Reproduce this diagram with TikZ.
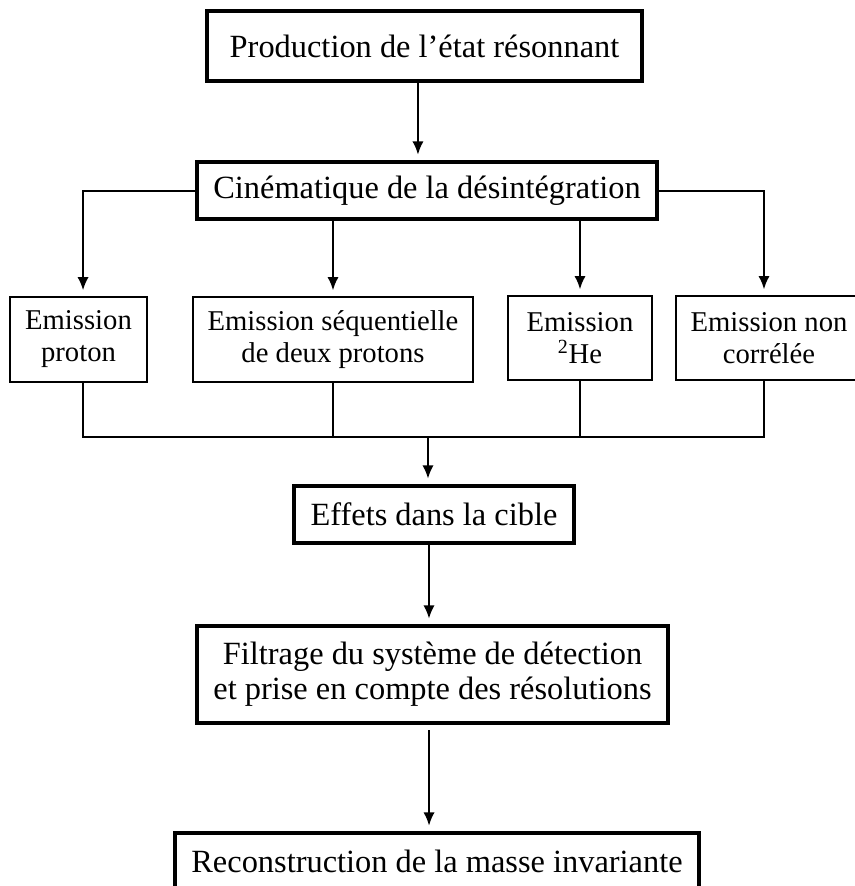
\documentclass[tikz,border=0pt]{standalone}
\usepackage{fontspec}
\setmainfont{Liberation Serif}
\usetikzlibrary{arrows.meta}

\begin{document}
\begin{tikzpicture}[x=0.75pt,y=-0.75pt,line cap=butt,
    gros/.style={draw,line width=3pt,align=center,inner sep=0pt,
      font=\fontsize{24.3}{26.3}\selectfont},
    petit/.style={draw,line width=2pt,align=center,inner sep=0pt,
      font=\fontsize{21.5}{24}\selectfont},
    lien/.style={line width=1.5pt},
    fleche/.style={lien,-{Latex[length=10pt,width=8.5pt]},shorten >=4pt}]
  \useasboundingbox (0,0) rectangle (855,886);
  % boites principales
  \node[gros,minimum width=326.25pt,minimum height=52.5pt] (prod) at (424.5,46) {Production de l'état résonnant};
  \node[gros,minimum width=345pt,minimum height=42.75pt] (cine) at (427,190.5) {Cinématique de la désintégration};
  % modes d'emission
  \node[petit,minimum width=102.75pt,minimum height=63.75pt] (ep) at (78.5,339.5) {Emission\\proton};
  \node[petit,minimum width=210pt,minimum height=63.75pt] (es) at (333,339.5) {Emission séquentielle\\de deux protons};
  \node[petit,minimum width=108pt,minimum height=63pt] (ehe) at (580,338) {Emission\\\textsuperscript{2}He};
  \node[petit,minimum width=139.5pt,minimum height=63pt] (enc) at (769,338) {Emission non\\corrélée};
  % suite de la chaine
  \node[gros,minimum width=210pt,minimum height=42.75pt] (eff) at (434,514.5) {Effets dans la cible};
  \node[gros,minimum width=353.25pt,minimum height=72.75pt] (filt) at (432.5,674.5) {Filtrage du système de détection\\et prise en compte des résolutions};
  \node[gros,minimum width=393pt,minimum height=42.75pt] (rec) at (437,861.5) {Reconstruction de la masse invariante};
  \coordinate (j) at (428,437);
  % fleches
  \draw[fleche] ([xshift=-4.9pt]prod.south) -- ([xshift=-4.9pt]prod.south |- cine.north);
  \draw[fleche] (cine.west) -| ([xshift=3.4pt]ep.north);
  \draw[fleche] (cine.south -| es.north) -- (es.north);
  \draw[fleche] (cine.south -| ehe.north) -- (ehe.north);
  \draw[fleche] (cine.east) -| ([xshift=-3.75pt]enc.north);
  % regroupement
  \draw[lien] ([xshift=3.4pt]ep.south) |- ([xshift=-3.75pt]enc.south |- j) -- ([xshift=-3.75pt]enc.south);
  \draw[lien] (es.south) -- (es.south |- j);
  \draw[lien] (ehe.south) -- (ehe.south |- j);
  \draw[fleche] (j) -- (j |- eff.north);
  \draw[fleche] ([xshift=-3.75pt]eff.south) -- ([xshift=-3.75pt]eff.south |- filt.north);
  \draw[fleche] ([xshift=-2.6pt,yshift=-4pt]filt.south) -- ([xshift=-2.6pt]filt.south |- rec.north);
\end{tikzpicture}
\end{document}
